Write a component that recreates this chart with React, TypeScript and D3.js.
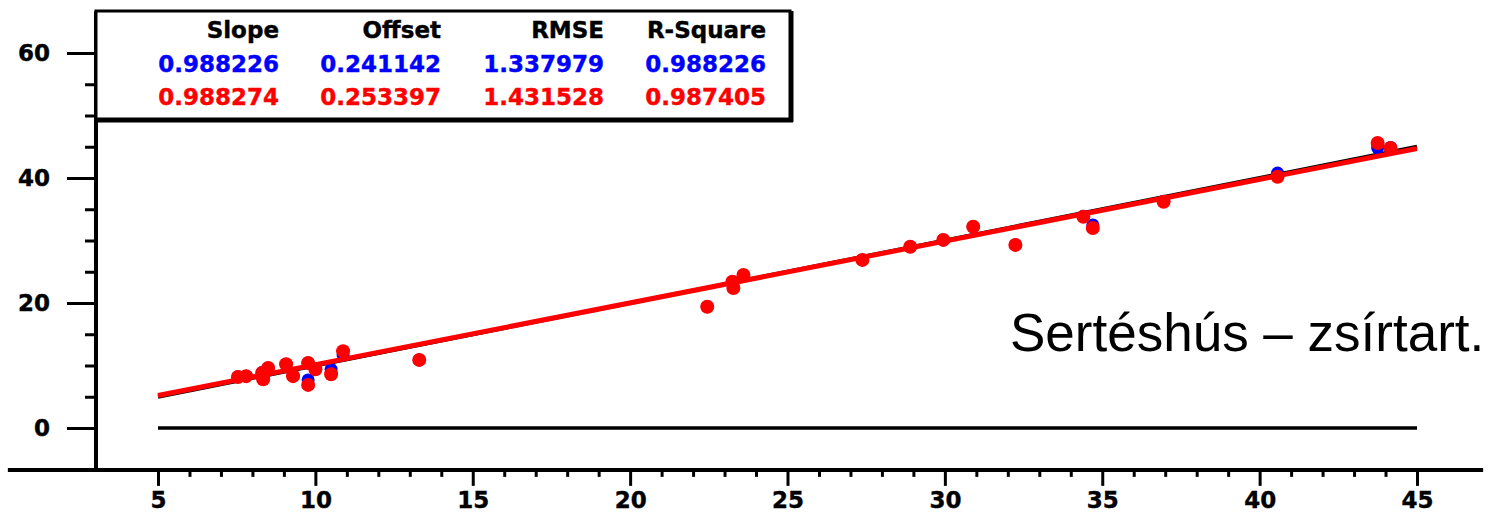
import React, { useEffect, useRef } from 'react';
import * as d3 from 'd3';

// reference values (x) and the two predicted series (y)
const refX = [7.54, 7.8, 8.31, 8.5, 8.34, 9.07, 9.29, 9.77, 9.77, 10.0, 10.5, 10.88, 13.3,
  22.45, 23.25, 23.28, 23.6, 27.38, 28.9, 29.95, 30.9, 32.24, 34.4, 34.7, 36.95, 40.57, 43.75, 44.16];
const predBlue = [8.2, 8.3, 8.9, 9.6, 7.9, 10.2, 8.4, 10.4, 7.7, 9.4, 9.4, 11.7, 10.9,
  19.4, 23.4, 22.5, 24.4, 26.9, 29.0, 30.1, 32.2, 29.3, 33.9, 32.5, 36.3, 40.8, 44.8, 44.9];
const predRed = [8.16, 8.3, 8.8, 9.6, 7.8, 10.2, 8.3, 10.4, 6.9, 9.4, 8.6, 12.3, 10.9,
  19.4, 23.4, 22.4, 24.5, 26.9, 29.0, 30.1, 32.2, 29.3, 33.8, 32.0, 36.2, 40.2, 45.6, 44.8];

const statHeaders = ['Slope', 'Offset', 'RMSE', 'R-Square'];
const statsBlue = ['0.988226', '0.241142', '1.337979', '0.988226'];
const statsRed = ['0.988274', '0.253397', '1.431528', '0.987405'];
const redFit = { slope: 0.988274, offset: 0.253397 };

const xMajor = [5, 10, 15, 20, 25, 30, 35, 40, 45];
const xMinor = d3.range(6, 45).filter(v => v % 5 !== 0);
const yMajor = [0, 20, 40, 60];
const yMinor = d3.range(5, 60, 5).filter(v => v % 20 !== 0);
const lineRange = [5, 45];
const xExtent = [0.23, 47.1];
const yExtent = [-6.7, 66.7];
const yAxisAt = 3.03;

const title = 'Sertéshús – zsírtart.';
const FONT = '"DejaVu Sans", Verdana, sans-serif';

const App = () => {
  const svgRef = useRef(null);

  useEffect(() => {
    const svg = d3.select(svgRef.current);
    svg.selectAll('*').remove();

    const x = d3.scaleLinear().domain([5, 45]).range([158, 1417]);
    const y = d3.scaleLinear().domain([0, 60]).range([428, 53]);
    const x0 = x(yAxisAt);
    const yBottom = y(yExtent[0]);

    // axis lines
    svg.append('line')
      .attr('x1', x0).attr('x2', x0)
      .attr('y1', y(yExtent[1])).attr('y2', yBottom)
      .attr('stroke', '#000').attr('stroke-width', 4);
    svg.append('line')
      .attr('x1', x(xExtent[0])).attr('x2', x(xExtent[1]))
      .attr('y1', yBottom).attr('y2', yBottom)
      .attr('stroke', '#000').attr('stroke-width', 4);

    const styleAxis = g => {
      g.select('.domain').remove();
      g.selectAll('line').attr('stroke', '#000').attr('stroke-width', 3);
      g.selectAll('text')
        .attr('fill', '#000')
        .attr('stroke', '#000').attr('stroke-width', 0.4)
        .style('font-family', FONT)
        .style('font-weight', 'bold')
        .style('font-size', '23px');
    };

    svg.append('g')
      .attr('transform', `translate(${x0},0)`)
      .call(d3.axisLeft(y).tickValues(yMajor).tickSize(29).tickPadding(17).tickFormat(d3.format('d')))
      .call(styleAxis);
    svg.append('g')
      .attr('transform', `translate(${x0},0)`)
      .call(d3.axisLeft(y).tickValues(yMinor).tickSize(11).tickFormat(() => ''))
      .call(styleAxis);

    svg.append('g')
      .attr('transform', `translate(0,${yBottom})`)
      .call(d3.axisBottom(x).tickValues(xMajor).tickSize(16).tickPadding(6).tickFormat(d3.format('d')))
      .call(styleAxis);
    svg.append('g')
      .attr('transform', `translate(0,${yBottom})`)
      .call(d3.axisBottom(x).tickValues(xMinor).tickSize(7).tickFormat(() => ''))
      .call(styleAxis);

    // zero line
    svg.append('line')
      .attr('x1', x(lineRange[0])).attr('x2', x(lineRange[1]))
      .attr('y1', y(0)).attr('y2', y(0))
      .attr('stroke', '#000').attr('stroke-width', 3.5);

    // identity line
    const line = d3.line().x(d => x(d[0])).y(d => y(d[1]));
    svg.append('path')
      .attr('d', line(lineRange.map(v => [v, v])))
      .attr('stroke', '#000').attr('stroke-width', 4).attr('fill', 'none');

    // points
    svg.append('g').selectAll('circle')
      .data(refX.map((v, i) => [v, predBlue[i]]))
      .join('circle')
      .attr('cx', d => x(d[0])).attr('cy', d => y(d[1]))
      .attr('r', 6.5).attr('fill', '#0000ff');
    svg.append('g').selectAll('circle')
      .data(refX.map((v, i) => [v, predRed[i]]))
      .join('circle')
      .attr('cx', d => x(d[0])).attr('cy', d => y(d[1]))
      .attr('r', 7).attr('fill', '#ff0000');

    // red fit line
    svg.append('path')
      .attr('d', line(lineRange.map(v => [v, redFit.slope * v + redFit.offset])))
      .attr('stroke', '#ff0000').attr('stroke-width', 5).attr('fill', 'none');

    // stats box
    const box = svg.append('g');
    box.append('rect')
      .attr('x', x0).attr('y', 11).attr('width', 694).attr('height', 108)
      .attr('fill', '#fff').attr('stroke', '#000').attr('stroke-width', 3);
    box.append('line').attr('x1', x0 + 696).attr('x2', x0 + 696)
      .attr('y1', 11).attr('y2', 122).attr('stroke', '#000').attr('stroke-width', 3);
    box.append('line').attr('x1', x0).attr('x2', x0 + 697)
      .attr('y1', 121).attr('y2', 121).attr('stroke', '#000').attr('stroke-width', 3);

    const colX = [279, 441, 604, 766];
    const rows = [
      { vals: statHeaders, color: '#000', yPos: 38 },
      { vals: statsBlue, color: '#0000ff', yPos: 72 },
      { vals: statsRed, color: '#ff0000', yPos: 105 },
    ];
    rows.forEach(r => {
      box.append('g').selectAll('text')
        .data(r.vals)
        .join('text')
        .attr('x', (d, i) => colX[i])
        .attr('y', r.yPos)
        .attr('text-anchor', 'end')
        .attr('fill', r.color)
        .attr('stroke', r.color).attr('stroke-width', 0.4)
        .style('font-family', FONT)
        .style('font-weight', 'bold')
        .style('font-size', '23px')
        .text(d => d);
    });

    svg.append('text')
      .attr('x', 1010).attr('y', 351)
      .style('font-family', 'Arial, "Liberation Sans", sans-serif')
      .style('font-size', '53px')
      .attr('fill', '#000')
      .text(title);
  }, []);

  return (
    <svg ref={svgRef} width={1490} height={515}
      style={{ position: 'absolute', left: 0, top: 0, background: '#fff' }} />
  );
};

export default App;
